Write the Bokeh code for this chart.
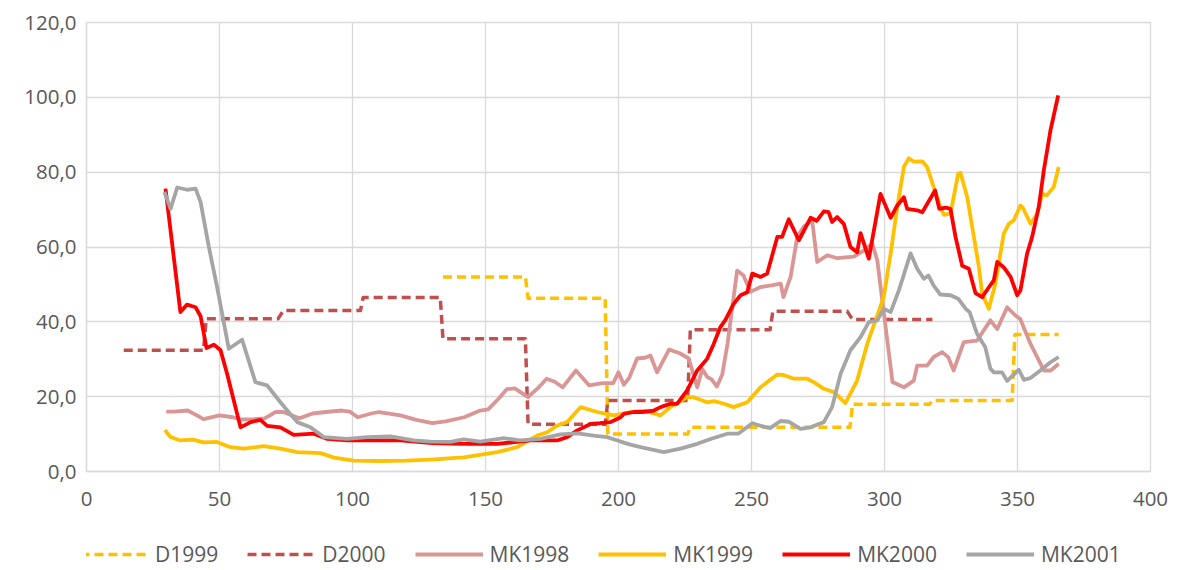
from bokeh.plotting import figure
from bokeh.layouts import column
from bokeh.models import FixedTicker, CustomJSTickFormatter, Legend, LegendItem, Range1d
from bokeh.embed import file_html
from bokeh.resources import INLINE

# ---------------- data ----------------
d1999_day = [134, 165, 166, 195, 196, 226, 227, 287, 288, 317, 318, 348, 349, 365.5]
d1999_val = [52.0, 52.0, 46.3, 46.3, 10.0, 10.0, 11.8, 11.8, 18.0, 18.0, 19.0, 19.0, 36.6, 36.6]

d2000_day = [14, 44, 45, 72, 74, 103, 104, 133, 134, 165, 166, 195, 196, 226, 227, 257, 258, 286, 288, 318]
d2000_val = [32.4, 32.4, 40.8, 40.8, 43.0, 43.0, 46.5, 46.5, 35.5, 35.5, 12.6, 12.6, 19.0, 19.0,
             37.9, 37.9, 42.8, 42.8, 40.6, 40.6]

mk1998_day = [30, 33, 38, 41, 44, 50, 55, 58, 63, 67,
              71, 74, 80, 85, 90, 96, 99, 102, 107, 110,
              118, 124, 130, 135, 142, 148, 151, 155, 158, 161,
              166, 170, 173, 176, 179, 184, 189, 194, 198, 200,
              202, 204, 207, 210, 212, 214.5, 219, 223, 226.4, 229.6,
              231.5, 233.3, 235, 237, 239, 241, 244.6, 247, 249.6, 253.4,
              258, 261, 262, 264.7, 267.2, 269.7, 272.8, 274.7, 278.5, 282.2,
              288.5, 292.3, 295.4, 297.3, 303, 307.3, 311, 312.3, 316, 318.5,
              321.7, 324, 326, 329.8, 334.8, 339.8, 342.4, 346.1, 349.2, 351,
              354.9, 359.9, 362.5, 365.5]
mk1998_val = [16.0, 16.0, 16.3, 15.2, 14.0, 15.0, 14.5, 13.9, 14.0, 14.2,
              15.9, 15.9, 14.2, 15.5, 15.9, 16.3, 16.0, 14.5, 15.5, 15.9,
              15.0, 13.8, 12.9, 13.4, 14.5, 16.3, 16.6, 19.5, 22.0, 22.2,
              19.9, 22.5, 24.8, 24.0, 22.5, 27.0, 23.0, 23.6, 23.6, 26.5,
              23.2, 25.0, 30.2, 30.4, 31.0, 26.5, 32.6, 31.6, 30.2, 22.5,
              27.4, 25.3, 24.6, 22.7, 25.9, 34.2, 53.7, 52.4, 48.0, 49.3,
              49.8, 50.2, 46.6, 52.0, 62.7, 65.5, 67.1, 56.0, 57.8, 57.0,
              57.4, 59.1, 60.9, 56.4, 23.9, 22.5, 24.3, 28.3, 28.3, 30.6,
              31.9, 30.5, 27.0, 34.6, 35.0, 40.4, 38.1, 43.9, 41.7, 40.8,
              34.1, 27.0, 27.0, 28.8]

mk1999_day = [29.5, 31.6, 35.3, 40, 44.1, 49, 54.1, 59.1, 66.7, 72.9,
              79.2, 88, 93, 100.5, 110.5, 120, 129.3, 141.8, 154.4, 161.9,
              169.4, 173.2, 176.9, 180.7, 185.7, 192, 198.2, 204.5, 210, 215.8,
              219.5, 225.8, 228, 233.3, 236, 239.6, 243.3, 248.4, 253.4, 259.7,
              262, 265.9, 270.9, 273.4, 277.2, 281, 285.3, 289.7, 293.5, 297.3,
              299.7, 302.3, 304.8, 307.3, 309.1, 311, 314.2, 316, 318.5, 321,
              322.3, 324.8, 327.7, 328.6, 331.1, 333.6, 335.5, 336.7, 339.2, 341.7,
              344.8, 346.7, 348.6, 351.1, 352, 354.9, 357.4, 359.3, 361, 363.6,
              365.5]
mk1999_val = [11.1, 9.2, 8.3, 8.5, 7.8, 7.9, 6.5, 6.1, 6.8, 6.1,
              5.2, 4.9, 3.7, 2.9, 2.8, 2.9, 3.2, 3.8, 5.2, 6.5,
              9.6, 10.5, 12.3, 13.2, 17.2, 15.9, 15.0, 15.9, 16.2, 15.0,
              17.2, 19.9, 19.9, 18.5, 18.8, 18.1, 17.2, 18.5, 22.5, 25.9,
              25.8, 24.8, 24.8, 23.9, 22.1, 21.2, 18.3, 24.3, 34.1, 41.7,
              46.6, 58.2, 70.7, 81.4, 83.7, 82.8, 82.9, 81.4, 76.0, 70.7,
              68.6, 68.9, 79.6, 79.8, 73.3, 62.7, 54.6, 47.5, 43.5, 50.2,
              63.5, 66.2, 67.1, 71.1, 70.5, 66.2, 68.9, 74.2, 73.8, 76.0,
              81.4]

mk2000_day = [29.7, 35.3, 37.8, 41, 42.9, 45.1, 47.9, 50.4, 52.9, 57.9,
              61.7, 65.4, 67.9, 72.9, 77.9, 85.5, 90.5, 98, 110, 118,
              130, 141.8, 154.4, 166.9, 176.9, 180.7, 184.5, 189.5, 193, 197,
              200.8, 202, 205.7, 209, 213.3, 215.8, 219.5, 222, 225.8, 229.6,
              233.3, 235.8, 238.3, 240.2, 243.3, 245.9, 248.4, 250.3, 253.4, 255.9,
              259.7, 261.5, 264, 267.8, 272.2, 274.5, 277.2, 279, 280.3, 282.2,
              284.7, 287.2, 289.7, 291, 294.1, 298.5, 302.3, 304.8, 307.3, 308.5,
              312.3, 314.2, 319, 320.6, 323, 324.8, 326.7, 329.2, 331.7, 334.2,
              336.7, 339.5, 341.1, 342.4, 344.8, 347.4, 349.9, 351.1, 353.6, 355.5,
              358, 359.9, 362.4, 365.3]
mk2000_val = [75.6, 42.6, 44.6, 43.9, 41.5, 33.0, 33.9, 32.4, 26.0, 11.8,
              13.2, 13.8, 12.2, 11.8, 9.8, 10.1, 8.7, 8.3, 8.3, 8.3,
              7.6, 7.4, 7.4, 8.3, 8.3, 9.2, 11.0, 12.7, 12.9, 13.2,
              14.5, 15.4, 15.9, 15.9, 16.3, 17.2, 18.1, 18.1, 21.7, 27.0,
              30.1, 34.1, 38.6, 40.5, 44.8, 47.1, 47.9, 52.9, 52.0, 52.9,
              62.7, 62.7, 67.4, 61.8, 67.8, 67.0, 69.5, 69.3, 66.7, 68.0,
              66.2, 60.0, 58.6, 63.7, 56.9, 74.2, 67.8, 71.1, 73.3, 70.2,
              69.8, 69.3, 75.1, 70.2, 70.5, 70.2, 62.7, 55.0, 54.2, 47.7,
              46.6, 49.5, 51.1, 56.0, 54.6, 52.0, 47.1, 48.4, 58.2, 62.7,
              70.7, 80.5, 91.2, 100.5]

mk2001_day = [29.3, 31.6, 34.1, 37.8, 41, 42.9, 46, 49.1, 53.5, 58.5,
              63.5, 67.9, 72.9, 75.5, 79.2, 84.2, 89.2, 98, 105.5, 114.3,
              123, 129.3, 136.8, 141.8, 148, 156.9, 163, 170.7, 178.2, 184.5,
              190.7, 195.7, 200.8, 204.5, 208.3, 217, 223.3, 229.6, 234.6, 240.9,
              245, 250.3, 254.6, 257, 260.9, 264, 268.4, 272.2, 277.2, 280.3,
              283.5, 287.2, 291, 294.1, 297.3, 299.7, 302.3, 305.4, 309.8, 312.3,
              314.8, 316.5, 318.5, 321, 324.8, 327.7, 330.5, 332, 334.8, 337.9,
              339.8, 341.1, 344.2, 346.1, 350.5, 352.4, 354.9, 358.6, 362.4, 365.5]
mk2001_val = [74.7, 70.2, 75.9, 75.3, 75.6, 72.0, 60.0, 49.3, 32.8, 35.2,
              23.9, 23.0, 18.5, 16.3, 13.2, 11.8, 9.2, 8.7, 9.2, 9.4,
              8.3, 8.0, 7.9, 8.6, 8.0, 8.9, 8.3, 8.7, 9.9, 10.2,
              9.6, 9.2, 8.0, 7.2, 6.5, 5.2, 6.1, 7.4, 8.7, 10.1,
              10.1, 12.9, 12.0, 11.6, 13.5, 13.3, 11.4, 11.8, 13.2, 17.2,
              26.1, 32.4, 35.9, 39.9, 40.4, 43.5, 42.6, 48.4, 58.3, 54.2,
              51.5, 52.4, 49.7, 47.3, 47.1, 46.2, 43.5, 42.6, 36.8, 33.2,
              27.5, 26.5, 26.5, 24.2, 27.2, 24.5, 25.0, 27.0, 29.2, 30.6]

x_ticks = [0, 50, 100, 150, 200, 250, 300, 350, 400]
y_ticks = [0, 20, 40, 60, 80, 100, 120]

# ---------------- main figure ----------------
FONT = "Open Sans"
TXT = "#595959"
GRID = "#D9D9D9"

p = figure(width=1179, height=516, x_range=Range1d(0, 400), y_range=Range1d(0, 120),
           output_backend="svg", toolbar_location=None,
           min_border_left=86, min_border_right=29, min_border_top=22, min_border_bottom=45)
p.background_fill_color = "white"
p.border_fill_color = "white"
p.outline_line_color = GRID
p.outline_line_width = 1.3

p.xaxis.ticker = FixedTicker(ticks=x_ticks)
p.yaxis.ticker = FixedTicker(ticks=y_ticks)
p.yaxis.formatter = CustomJSTickFormatter(code="return tick.toFixed(1).replace('.', ',');")
for ax in (p.xaxis[0], p.yaxis[0]):
    ax.major_tick_line_color = None
    ax.minor_tick_line_color = None
    ax.axis_line_color = GRID
    ax.axis_line_width = 1.3
    ax.major_label_text_font = FONT
    ax.major_label_text_font_size = "20.5px"
    ax.major_label_text_color = TXT
p.xaxis.major_label_standoff = 14
p.yaxis.major_label_standoff = 4

p.xgrid.ticker = FixedTicker(ticks=x_ticks)
p.ygrid.ticker = FixedTicker(ticks=y_ticks)
p.xgrid.grid_line_color = GRID
p.ygrid.grid_line_color = GRID
p.xgrid.grid_line_width = 1.3
p.ygrid.grid_line_width = 1.3

series = [
    ("D1999", d1999_day, d1999_val, "#FFC000", "9 5", 3.5),
    ("D2000", d2000_day, d2000_val, "#C0504D", "9 5", 3.5),
    ("MK1998", mk1998_day, mk1998_val, "#D99694", "solid", 3.8),
    ("MK1999", mk1999_day, mk1999_val, "#FFC000", "solid", 3.8),
    ("MK2000", mk2000_day, mk2000_val, "#FF0000", "solid", 3.8),
    ("MK2001", mk2001_day, mk2001_val, "#A5A5A5", "solid", 3.8),
]

for name, xs, ys, col, dash, lw in series:
    p.line(xs, ys, line_color=col, line_width=lw, line_dash=dash,
           line_join="round", line_cap="butt")

# ---------------- legend strip (same series, outside its visible range) ----------------
pl = figure(width=1179, height=54, x_range=Range1d(0, 1), y_range=Range1d(0, 1),
            output_backend="svg", toolbar_location=None,
            min_border_left=0, min_border_right=0, min_border_top=0, min_border_bottom=0)
pl.axis.visible = False
pl.grid.visible = False
pl.outline_line_color = None
pl.background_fill_color = "white"
pl.border_fill_color = "white"

items = []
for name, xs, ys, col, dash, lw in series:
    r = pl.line(xs, ys, line_color=col, line_width=lw, line_dash=dash, line_cap="butt")
    items.append(LegendItem(label=name, renderers=[r]))

legend = Legend(items=items, orientation="horizontal", location=(-6, 2),
                glyph_width=68, glyph_height=20, label_standoff=7, spacing=29,
                padding=0, margin=0, border_line_color=None, background_fill_alpha=0,
                label_text_font=FONT, label_text_font_size="21px", label_text_color=TXT)
pl.add_layout(legend)

layout = column(p, pl, spacing=0)
open("out.html", "w").write(file_html(layout, INLINE))
